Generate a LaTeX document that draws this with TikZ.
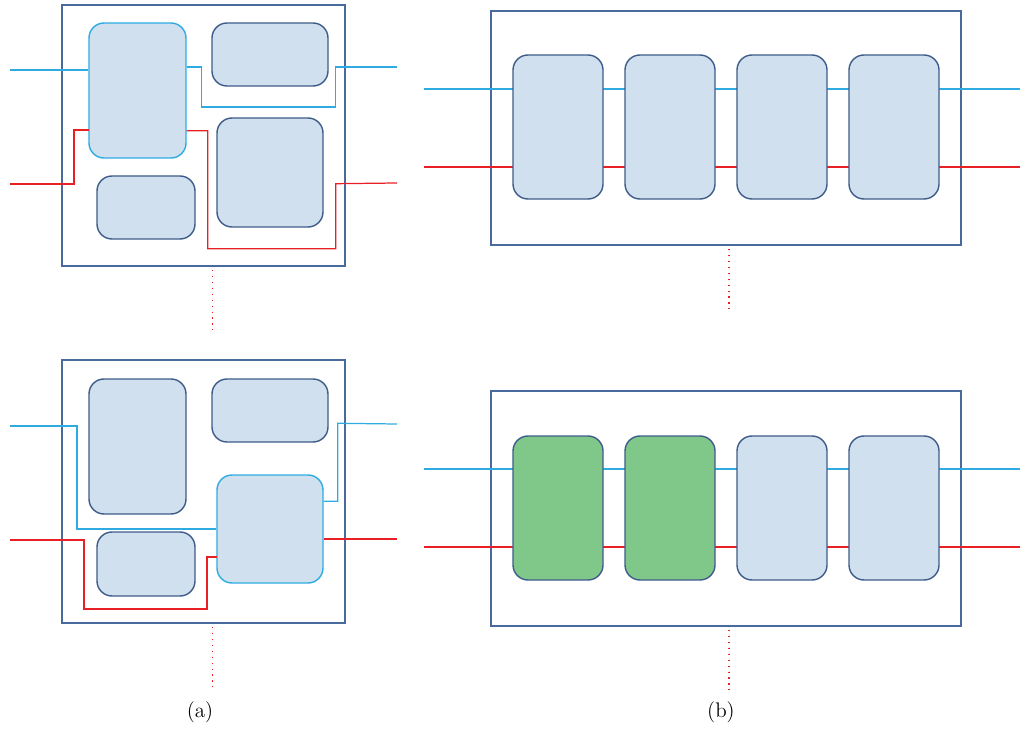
\documentclass[tikz,border=0pt]{standalone}
\usepackage{tikz}
\usetikzlibrary{fit, calc}

\definecolor{devfill}{RGB}{209,224,238}
\definecolor{devline}{RGB}{62,92,138}
\definecolor{frameline}{RGB}{72,106,156}
\definecolor{wireblue}{RGB}{46,172,226}
\definecolor{wirered}{RGB}{232,32,38}
\definecolor{devgreen}{RGB}{128,200,138}

\begin{document}
\begin{tikzpicture}[x=0.02cm, y=-0.02cm]
        \tikzstyle{Frame} = [draw=frameline, line width=0.8pt, inner sep=0pt]
        \tikzstyle{Dev} = [draw=devline, fill=devfill, line width=0.8pt, rounded corners=0.3cm, inner sep=0pt]
        \tikzstyle{DevSel} = [Dev, draw=wireblue]
        \tikzstyle{DevOn} = [Dev, fill=devgreen]
        \tikzstyle{BlueWire} = [draw=wireblue, line width=0.7pt]
        \tikzstyle{RedWire} = [draw=wirered, line width=0.7pt]
        \tikzstyle{More} = [draw=wirered, line width=0.7pt, dash pattern=on 0.8pt off 2.6pt]
        \useasboundingbox (0,0) rectangle (1020,729);

        % (a) upper board
        \node[Frame, fit={(62,5) (345,266)}] (a1) {};
        \node[DevSel, fit={(89,23) (186,158)}] (a1A) {};
        \node[Dev, fit={(212,23) (328,86)}] (a1B) {};
        \node[Dev, fit={(97,176) (195,239)}] (a1C) {};
        \node[Dev, fit={(217,118) (323,227)}] (a1D) {};
        \coordinate (a1in1) at (10,70);
        \coordinate (a1in2) at (10,184);
        \coordinate (a1out1) at (397,67);
        \coordinate (a1out2) at (397,183);
        \draw[BlueWire] (a1in1) -- (a1in1 -| a1A.west);
        \draw[BlueWire] (a1A.east |- a1out1) -- ++(15,0) -- ++(0,40) -- ++(134,0) -- ++(0,-40) -- (a1out1);
        \draw[RedWire] (a1in2) -- ++(64,0) -- ++(0,-54) -- ++(15,0);
        \draw[RedWire] ($(a1A.south east)+(0,-28)$) -- ++(21,0) -- ++(0,118) -- ++(128,0) -- ++(0,-65) -- (a1out2);
        \draw[More] ($(a1.south)+(9,3)$) -- ++(0,60);

        % (a) lower board
        \node[Frame, fit={(62,360) (345,623)}] (a2) {};
        \node[Dev, fit={(89,379) (186,514)}] (a2A) {};
        \node[Dev, fit={(212,379) (328,442)}] (a2B) {};
        \node[Dev, fit={(97,532) (195,596)}] (a2C) {};
        \node[DevSel, fit={(217,475) (323,583)}] (a2D) {};
        \coordinate (a2in1) at (10,426);
        \coordinate (a2in2) at (10,540);
        \coordinate (a2out1) at (397,424);
        \coordinate (a2out2) at (397,539);
        \draw[BlueWire] (a2in1) -- ++(67,0) |- (a2D.west);
        \draw[BlueWire] ($(a2D.north east)+(0,27)$) -- ++(14,0) -- ++(0,-78) -- (a2out1);
        \draw[RedWire] (a2in2) -- ++(74,0) -- ++(0,69) -- ++(123,0) -- ++(0,-52) -- ++(10,0);
        \draw[RedWire] (a2D.east |- a2out2) -- (a2out2);
        \draw[More] ($(a2.south)+(9,3)$) -- ++(0,60);

        % (b) upper chain
        \node[Frame, fit={(491,11) (961,245)}] (b1) {};
        \coordinate (b1in1) at (424,89);
        \coordinate (b1in2) at (424,167);
        \coordinate (b1out1) at (1020,89);
        \coordinate (b1out2) at (1020,167);
        \draw[BlueWire] (b1in1) -- (b1out1);
        \draw[RedWire] (b1in2) -- (b1out2);
        \node[Dev, fit={(513,55) (603,199)}] (b1P) {};
        \node[Dev, fit={(625,55) (715,199)}] (b1Q) {};
        \node[Dev, fit={(737,55) (827,199)}] (b1R) {};
        \node[Dev, fit={(849,55) (939,199)}] (b1S) {};
        \draw[More] ($(b1.south)+(3,3)$) -- ++(0,60);

        % (b) lower chain
        \node[Frame, fit={(491,391) (961,626)}] (b2) {};
        \coordinate (b2in1) at (424,469);
        \coordinate (b2in2) at (424,547);
        \coordinate (b2out1) at (1020,469);
        \coordinate (b2out2) at (1020,547);
        \draw[BlueWire] (b2in1) -- (b2out1);
        \draw[RedWire] (b2in2) -- (b2out2);
        \node[DevOn, fit={(513,436) (603,580)}] (b2P) {};
        \node[DevOn, fit={(625,436) (715,580)}] (b2Q) {};
        \node[Dev, fit={(737,436) (827,580)}] (b2R) {};
        \node[Dev, fit={(849,436) (939,580)}] (b2S) {};
        \draw[More] ($(b2.south)+(3,3)$) -- ++(0,60);

        \node[font=\large] (capa) at (200,712) {(a)};
        \node[font=\large] (capb) at (721,712) {(b)};
    \end{tikzpicture}
\end{document}
